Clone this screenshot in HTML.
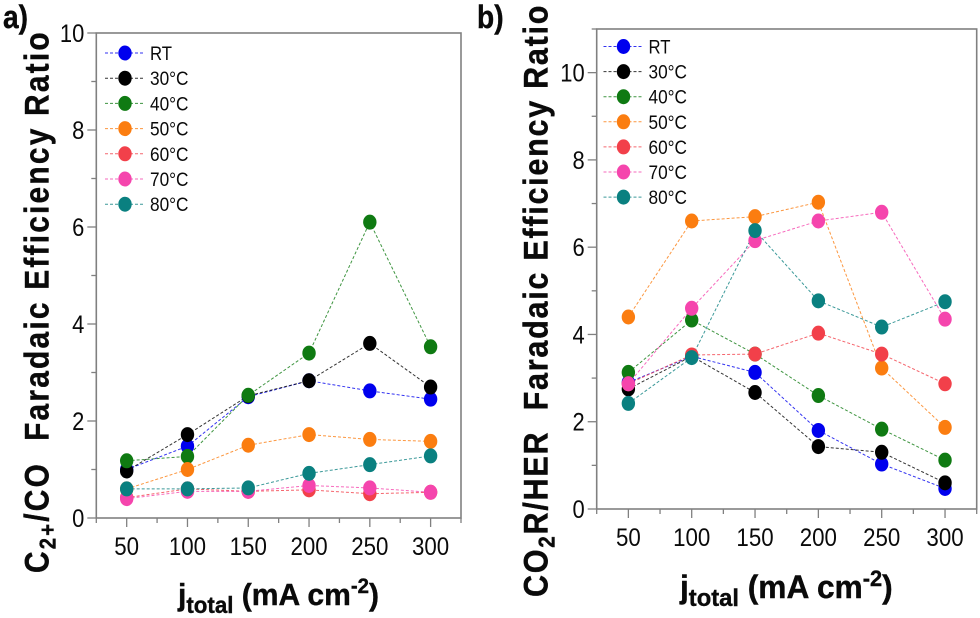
<!DOCTYPE html>
<html lang="en">
<head>
<meta charset="utf-8">
<title>Faradaic efficiency ratio charts</title>
<style>
html,body{margin:0;padding:0;background:#fff;}
svg{display:block;font-family:"Liberation Sans",Arial,sans-serif;}
.title{font-weight:700;fill:#0a0a0a;stroke:#0a0a0a;stroke-width:.4px;}
</style>
</head>
<body>
<svg id="figure" xmlns="http://www.w3.org/2000/svg" width="980" height="618" viewBox="0 0 980 618">
<rect width="980" height="618" fill="#fff"/>
<text class="title" font-size="32" transform="translate(3 28) scale(.88 1)">a)</text>
<text class="title" font-size="32" transform="translate(477 28) scale(.88 1)">b)</text>
<g id="panel-a"></g>
<g id="panel-b"></g>
<text class="title" font-size="34" letter-spacing="2.5" transform="translate(48.7 573) rotate(-90) scale(.88 1)" xml:space="preserve">C<tspan font-size="23" dy="7">2+</tspan><tspan dy="-7">/CO  Faradaic Efficiency Ratio</tspan></text>
<text class="title" font-size="34" letter-spacing="1.9" transform="translate(547.7 597) rotate(-90) scale(.9 1)" xml:space="preserve">CO<tspan font-size="23" dy="7">2</tspan><tspan dy="-7">R/HER  Faradaic Efficiency Ratio</tspan></text>
<text class="title" font-size="31" transform="translate(178 605) scale(.97 1)">j<tspan font-size="23" dy="8">total</tspan><tspan dy="-8"> (mA cm</tspan><tspan font-size="21" dy="-12">-2</tspan><tspan dy="12">)</tspan></text>
<text class="title" font-size="32" transform="translate(680 598) scale(.99 1)">j<tspan font-size="24" dy="8">total</tspan><tspan dy="-8"> (mA cm</tspan><tspan font-size="22" dy="-12">-2</tspan><tspan dy="12">)</tspan></text>
</svg>
<script>
// Data
const currentDensities = [50, 100, 150, 200, 250, 300];
const seriesNames = ['RT', '30°C', '40°C', '50°C', '60°C', '70°C', '80°C'];
const xTickLabels = [50, 100, 150, 200, 250, 300];
const yTickLabelsA = [0, 2, 4, 6, 8, 10];
const yTickLabelsB = [0, 2, 4, 6, 8, 10];

const ratioART = [1.00, 1.48, 2.50, 2.83, 2.62, 2.45];
const ratioA30 = [0.97, 1.72, 2.52, 2.83, 3.60, 2.70];
const ratioA40 = [1.18, 1.27, 2.53, 3.40, 6.10, 3.53];
const ratioA50 = [0.60, 1.00, 1.50, 1.72, 1.62, 1.58];
const ratioA60 = [0.42, 0.60, 0.55, 0.58, 0.50, 0.53];
const ratioA70 = [0.40, 0.55, 0.55, 0.67, 0.62, 0.53];
const ratioA80 = [0.60, 0.60, 0.62, 0.92, 1.10, 1.28];

const ratioBRT = [2.90, 3.50, 3.13, 1.80, 1.03, 0.47];
const ratioB30 = [2.75, 3.50, 2.67, 1.43, 1.30, 0.60];
const ratioB40 = [3.13, 4.33, 3.55, 2.60, 1.83, 1.12];
const ratioB50 = [4.40, 6.60, 6.70, 7.03, 3.23, 1.87];
const ratioB60 = [2.87, 3.53, 3.55, 4.03, 3.55, 2.87];
const ratioB70 = [2.87, 4.60, 6.15, 6.60, 6.80, 4.35];
const ratioB80 = [2.42, 3.47, 6.38, 4.77, 4.17, 4.75];

const seriesA = [ratioART, ratioA30, ratioA40, ratioA50, ratioA60, ratioA70, ratioA80];
const seriesB = [ratioBRT, ratioB30, ratioB40, ratioB50, ratioB60, ratioB70, ratioB80];

const palette = ['#0000ee', '#000000', '#0f7a12', '#fb7d10', '#f2404a', '#f545ad', '#0a8080'];
const NS = 'http://www.w3.org/2000/svg';

function make(parent, tag, attrs, text) {
  const el = document.createElementNS(NS, tag);
  for (const k in attrs) el.setAttribute(k, attrs[k]);
  if (text !== undefined) el.textContent = text;
  parent.appendChild(el);
  return el;
}

function drawPanel(root, geom, series, yTicks) {
  const xScale = v => geom.left + (v - 25) / 300 * (geom.right - geom.left);
  const yScale = v => geom.bottom - v / geom.yMax * (geom.bottom - geom.top);
  const axisColor = '#808080';

  const frame = make(root, 'rect', {x: geom.left, y: geom.top, width: geom.right - geom.left, height: geom.bottom - geom.top, fill: 'none', stroke: axisColor, 'stroke-width': 1.6});
  
  

  // y ticks
  for (let v = 0; v <= geom.yMax; v++) {
    const major = v % 2 === 0;
    const t = make(root, 'line', {x1: geom.left - (major ? 9 : 5), x2: geom.left, y1: yScale(v), y2: yScale(v), stroke: axisColor, 'stroke-width': 1.3});
    
    
  }
  yTicks.forEach(v => {
    const label = String(v);
    const t = make(root, 'text', {x: geom.left - 12, y: yScale(v) + 9, 'font-size': 25, fill: '#0a0a0a', 'text-anchor': 'end', textLength: label.length * 12.2, lengthAdjust: 'spacingAndGlyphs'}, label);
    
    
  });

  // x ticks
  for (let v = 25; v <= 325; v += 25) {
    const major = v % 50 === 0;
    const t = make(root, 'line', {x1: xScale(v), x2: xScale(v), y1: geom.bottom, y2: geom.bottom + (major ? 9 : 5), stroke: axisColor, 'stroke-width': 1.3});
    
    
  }
  xTickLabels.forEach(v => {
    const label = String(v);
    const t = make(root, 'text', {x: xScale(v), y: geom.bottom + geom.xLabelDy, 'font-size': 25, fill: '#0a0a0a', 'text-anchor': 'middle', textLength: label.length * 12.4, lengthAdjust: 'spacingAndGlyphs'}, label);
    
    
  });

  // series lines and markers
  series.forEach((vals, i) => {
    const points = vals.map((v, j) => xScale(currentDensities[j]).toFixed(2) + ',' + yScale(v).toFixed(2)).join(' ');
    const line = make(root, 'polyline', {points: points, fill: 'none', stroke: palette[i], 'stroke-width': 1, 'stroke-dasharray': '3 2', opacity: 0.8});
    
    
  });
  series.forEach((vals, i) => {
    vals.forEach((v, j) => {
      const dot = make(root, 'ellipse', {cx: xScale(currentDensities[j]), cy: yScale(v), rx: 6.7, ry: 7.5, fill: palette[i]});
      
      
    });
  });

  // legend
  seriesNames.forEach((name, i) => {
    const y = geom.legendTop + i * geom.legendStep;
    const line = make(root, 'line', {x1: geom.legendX - 20, x2: geom.legendX + 20, y1: y, y2: y, stroke: palette[i], 'stroke-width': 1, 'stroke-dasharray': '3 2', opacity: 0.8});
    
    
    const dot = make(root, 'ellipse', {cx: geom.legendX, cy: y, rx: 6.7, ry: 7.5, fill: palette[i]});
    
    
    const label = make(root, 'text', {x: geom.legendX + 25, y: y + 7, 'font-size': 19, fill: '#0a0a0a', textLength: name.length === 2 ? 22 : 38.5, lengthAdjust: 'spacingAndGlyphs'}, name);
    
    
  });
}

drawPanel(document.getElementById('panel-a'),
  {left: 96.3, right: 461, top: 33, bottom: 518, yMax: 10, xLabelDy: 37, legendX: 125, legendTop: 53, legendStep: 25.2},
  seriesA, yTickLabelsA);
drawPanel(document.getElementById('panel-b'),
  {left: 596.7, right: 976.7, top: 29, bottom: 509, yMax: 11, xLabelDy: 37, legendX: 623.5, legendTop: 46.5, legendStep: 25.1},
  seriesB, yTickLabelsB);
</script>
</body>
</html>
